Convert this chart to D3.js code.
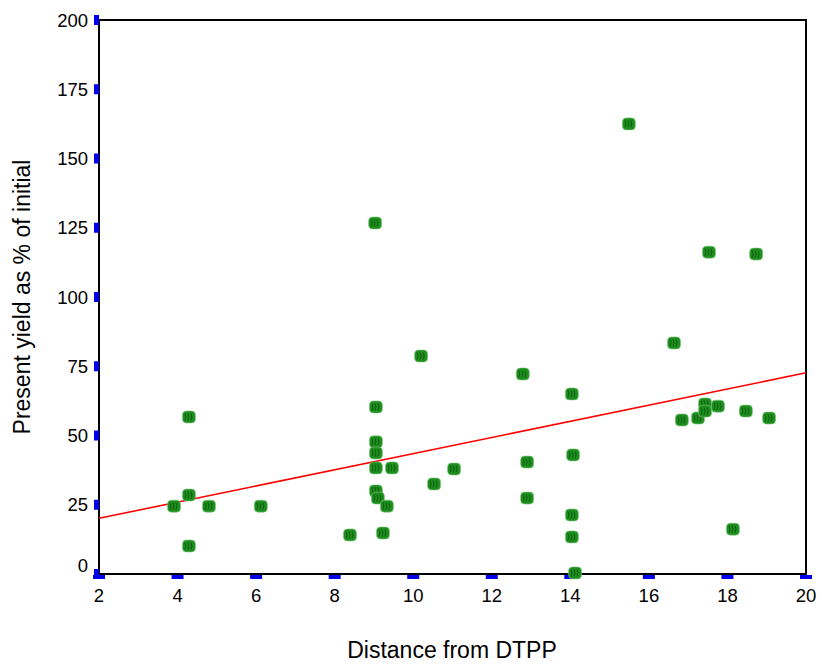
<!DOCTYPE html>
<html>
<head>
<meta charset="utf-8">
<script src="https://cdn.jsdelivr.net/npm/d3@7"></script>
<style>
  body { margin: 0; background: #fff; }
  svg text { font-family: "Liberation Sans", Arial, sans-serif; fill: #000; }
</style>
</head>
<body>
<svg id="chart" width="822" height="664"></svg>
<script>
// distance from DTPP (x) and present yield as % of initial (y)
var distance = [3.91, 4.29, 4.29, 4.29, 4.80, 6.12, 8.39, 9.03, 9.05, 9.05,
                9.05, 9.05, 9.05, 9.10, 9.23, 9.33, 9.46, 10.20, 10.53, 11.04,
                12.79, 12.90, 12.90, 14.04, 14.07, 14.04, 14.04, 14.12, 15.49, 16.64,
                16.84, 17.25, 17.43, 17.43, 17.76, 17.53, 18.47, 18.14, 18.73, 19.06];
var yieldPct = [24.5, 56.7, 28.5, 10.1, 24.5, 24.5, 14.1, 126.7, 60.3, 47.7,
                43.7, 38.3, 30.0, 27.4, 14.8, 24.5, 38.3, 78.7, 32.5, 37.9,
                72.2, 40.4, 27.4, 65.0, 43.0, 21.3, 13.4, 0.4, 162.5, 83.4,
                55.6, 56.3, 61.4, 58.8, 60.6, 116.2, 58.8, 16.2, 115.5, 56.3];

var xTicks = [2, 4, 6, 8, 10, 12, 14, 16, 18, 20];
var yTicks = [0, 25, 50, 75, 100, 125, 150, 175, 200];

var svg = d3.select("#chart");
var plotLeft = 99, plotRight = 806, plotTop = 20, plotBottom = 574;

var x = d3.scaleLinear().domain([2, 20]).range([plotLeft, plotRight]);
var y = d3.scaleLinear().domain([0, 200]).range([plotBottom, plotTop]);

// least squares fit line
var mx = d3.mean(distance), my = d3.mean(yieldPct);
var sxy = d3.sum(distance, function (d, i) { return (d - mx) * (yieldPct[i] - my); });
var sxx = d3.sum(distance, function (d) { return (d - mx) * (d - mx); });
var slope = sxy / sxx, intercept = my - slope * mx;

// frame
svg.append("rect")
    .attr("x", plotLeft).attr("y", plotTop)
    .attr("width", plotRight - plotLeft).attr("height", plotBottom - plotTop)
    .attr("fill", "none").attr("stroke", "#000").attr("stroke-width", 2);

// blue tick marks
svg.append("g").selectAll("rect")
    .data(yTicks)
    .enter().append("rect")
    .attr("x", plotLeft - 5).attr("y", function (d) { return y(d) - 5; })
    .attr("width", 5).attr("height", 10)
    .attr("fill", "#0000ee");

svg.append("g").selectAll("rect")
    .data(xTicks)
    .enter().append("rect")
    .attr("x", function (d) { return x(d) - 6; }).attr("y", plotBottom + 1)
    .attr("width", 12).attr("height", 4)
    .attr("fill", "#0000ee");

// tick labels
svg.append("g").selectAll("text")
    .data(yTicks)
    .enter().append("text")
    .attr("x", plotLeft - 11)
    .attr("y", function (d) { return d === 0 ? y(d) - 9 : y(d); })
    .attr("dy", "0.36em")
    .attr("text-anchor", "end")
    .attr("font-size", 18.5)
    .text(function (d) { return d; });

svg.append("g").selectAll("text")
    .data(xTicks)
    .enter().append("text")
    .attr("x", function (d) { return x(d); })
    .attr("y", plotBottom + 28)
    .attr("text-anchor", "middle")
    .attr("font-size", 18.5)
    .text(function (d) { return d; });

// axis titles
svg.append("text")
    .attr("x", 452).attr("y", 658)
    .attr("text-anchor", "middle").attr("font-size", 23)
    .text("Distance from DTPP");

svg.append("text")
    .attr("transform", "translate(30,297) rotate(-90)")
    .attr("text-anchor", "middle").attr("font-size", 23)
    .text("Present yield as % of initial");

// fit line
svg.append("line")
    .attr("x1", x(2)).attr("y1", y(intercept + slope * 2))
    .attr("x2", x(20)).attr("y2", y(intercept + slope * 20))
    .attr("stroke", "#ff0000").attr("stroke-width", 1.6);

// points
var pts = svg.append("g").selectAll("g")
    .data(distance)
    .enter().append("g")
    .attr("transform", function (d, i) {
        return "translate(" + x(d) + "," + y(yieldPct[i]) + ")";
    });

pts.append("rect")
    .attr("x", -6.5).attr("y", -6)
    .attr("width", 13).attr("height", 12)
    .attr("rx", 4)
    .attr("fill", "#1e8e1e")
    .attr("stroke", "#7cc87c").attr("stroke-width", 0.6);

pts.append("path")
    .attr("d", "M-4,-3.5 q2,3.5 0,7 M-1,-3.5 q2,3.5 0,7 M2,-3.5 q2,3.5 0,7")
    .attr("fill", "none")
    .attr("stroke", "#0a560a").attr("stroke-width", 0.9);
</script>
</body>
</html>
